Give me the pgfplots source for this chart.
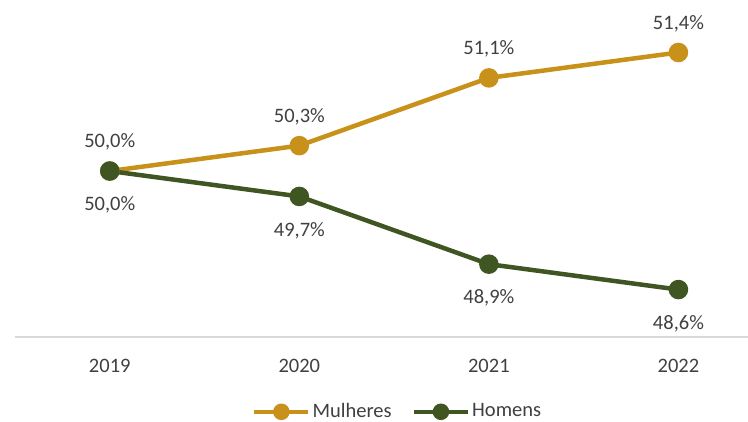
\documentclass[border=0pt]{standalone}
\usepackage{pgfplots}
\pgfplotsset{compat=1.18}
\usepackage{fontspec}
\setmainfont{Carlito}
\definecolor{gold}{HTML}{C8911A}
\definecolor{dgreen}{HTML}{3F5622}
\definecolor{txt}{HTML}{404040}
\begin{document}
\fontsize{20.5}{24}\selectfont
\begin{tikzpicture}[x=1pt,y=1pt]
\path[use as bounding box] (0,0) rectangle (748,422);
\begin{axis}[
  at={(15pt,85pt)}, anchor=south west,
  scale only axis, width=733pt, height=337pt,
  xmin=-0.5, xmax=3.367, ymin=48.04, ymax=52.02,
  clip=false,
  axis lines*=left,
  y axis line style={draw=none},
  x axis line style={-, draw=black!15, line width=1.5pt},
  ytick=\empty,
  xtick={0,1,2,3}, xticklabels={2019,2020,2021,2022},
  major tick length=0pt,
  xticklabel style={text=txt, yshift=-15pt},
  /pgf/number format/assume math mode=true,
  every axis plot/.append style={line width=4.5pt, mark=*, mark size=7.5pt},
  nodes near coords={\pgfmathprintnumber[fixed,fixed zerofill,precision=1,use comma]{\pgfplotspointmeta}\%},
  every node near coord/.append style={text=txt, anchor=center},
  legend columns=2,
  legend style={at={(0.522,-0.222)}, anchor=center, draw=none, fill=none, inner sep=1pt,
    text=txt, /tikz/every even column/.append style={column sep=18pt}},
  legend image code/.code={\draw[mark repeat=2, mark phase=2, #1, mark size=6pt] plot coordinates {(0pt,0pt) (27pt,0pt) (54pt,0pt)};},
]
\addplot[color=gold, every node near coord/.append style={yshift=29pt}] coordinates {(0,50.0) (1,50.3) (2,51.1) (3,51.4)};
\addlegendentry{Mulheres}
\addplot[color=dgreen, every node near coord/.append style={yshift=-34pt}] coordinates {(0,50.0) (1,49.7) (2,48.9) (3,48.6)};
\addlegendentry{Homens}
\end{axis}
\end{tikzpicture}
\end{document}
